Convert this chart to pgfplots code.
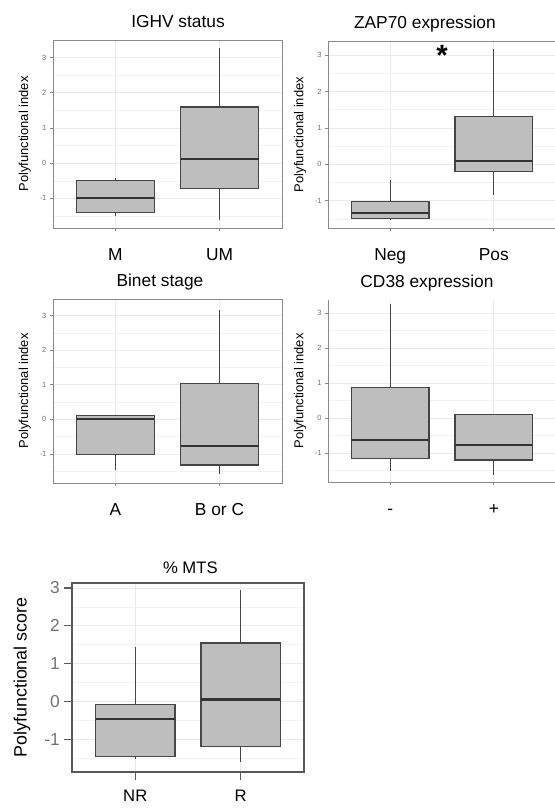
\documentclass[border=0pt]{standalone}
\usepackage{pgfplots}
\pgfplotsset{compat=1.18}
\usepgfplotslibrary{statistics}
\usepackage{fontspec}
\setmainfont{Liberation Sans}

\definecolor{boxfill}{HTML}{BEBEBE}
\definecolor{boxline}{HTML}{454545}
\definecolor{medline}{HTML}{333333}
\definecolor{gridmaj}{HTML}{EBEBEB}
\definecolor{gridmin}{HTML}{F3F3F3}
\definecolor{framecol}{HTML}{8A8A8A}
\definecolor{ticklab}{HTML}{6E6E6E}

\pgfplotsset{
  panel/.style={
    scale only axis,
    anchor=south west,
    xmin=0.4, xmax=2.6,
    xtick={1,2},
    ytick={-1,0,1,2,3},
    yticklabels={-1,0,1,2,3},
    minor ytick={-1.5,-0.5,0.5,1.5,2.5},
    xmajorgrids, ymajorgrids, yminorgrids,
    major grid style={gridmaj, line width=0.6pt},
    minor grid style={gridmin, line width=0.45pt},
    tick align=outside,
    xtick pos=bottom, ytick pos=left,
    major tick length=2.25pt, minor tick length=0pt,
    tick style={framecol, line width=0.5pt},
    axis line style={framecol, line width=0.6pt},
    xticklabel style={font=\fontsize{13}{15}\selectfont, anchor=base, inner sep=0pt, yshift=-22.5pt},
    yticklabel style={font=\fontsize{5.6}{6}\selectfont, color=ticklab, inner sep=2.5pt},
    title style={font=\fontsize{13}{15}\selectfont, anchor=base, yshift=3pt},
    ylabel={Polyfunctional index},
    ylabel style={font=\fontsize{9.7}{11}\selectfont, at={(axis description cs:-0.123,0.5)}, anchor=center},
    boxplot/draw direction=y,
    boxplot/box extend=0.75,
    boxplot/whisker extend=0,
    boxplot/every median/.style={draw=medline, line width=1.7pt},
  },
  bx/.style={draw=boxline, fill=boxfill, line width=0.95pt},
}

\begin{document}
\begin{tikzpicture}
\useasboundingbox (0,0) rectangle (416.25pt,607.5pt);

% Panel 1: IGHV status
\begin{axis}[panel,
  at={(39.75pt,436.5pt)}, width=171.75pt, height=141pt,
  ymin=-1.84, ymax=3.5,
  xticklabels={M,UM},
  title={IGHV status},
  title style={at={(axis description cs:0.546,1)}},
]
\addplot[bx, boxplot prepared={draw position=1, lower whisker=-1.50, lower quartile=-1.39, median=-0.99, upper quartile=-0.50, upper whisker=-0.43}] coordinates {};
\addplot[bx, boxplot prepared={draw position=2, lower whisker=-1.60, lower quartile=-0.72, median=0.11, upper quartile=1.60, upper whisker=3.26}] coordinates {};
\end{axis}

% Panel 2: ZAP70 expression
\begin{axis}[panel,
  at={(246pt,436.5pt)}, width=171pt, height=140.25pt,
  ymin=-1.75, ymax=3.39,
  xticklabels={Neg,Pos},
  title={ZAP70 expression},
  title style={at={(axis description cs:0.425,1)}},
]
\addplot[bx, boxplot prepared={draw position=1, lower whisker=-1.52, lower quartile=-1.48, median=-1.34, upper quartile=-1.02, upper whisker=-0.42}] coordinates {};
\addplot[bx, boxplot prepared={draw position=2, lower whisker=-0.83, lower quartile=-0.19, median=0.10, upper quartile=1.31, upper whisker=3.16}] coordinates {};
\node[anchor=north, inner sep=0pt, font=\fontsize{22}{24}\selectfont\bfseries] at (axis cs:1.5,3.29) {*};
\end{axis}

% Panel 3: Binet stage
\begin{axis}[panel,
  at={(39.75pt,245.25pt)}, width=171.75pt, height=138pt,
  ymin=-1.84, ymax=3.48,
  xticklabels={A,B or C},
  title={Binet stage},
  title style={at={(axis description cs:0.467,1)}},
]
\addplot[bx, boxplot prepared={draw position=1, lower whisker=-1.45, lower quartile=-1.01, median=0.02, upper quartile=0.12, upper whisker=0.12}] coordinates {};
\addplot[bx, boxplot prepared={draw position=2, lower whisker=-1.59, lower quartile=-1.32, median=-0.76, upper quartile=1.04, upper whisker=3.15}] coordinates {};
\end{axis}

% Panel 4: CD38 expression
\begin{axis}[panel,
  at={(246pt,246pt)}, width=171pt, height=136.5pt,
  ymin=-1.82, ymax=3.38,
  axis x line*=bottom, axis y line*=left,
  axis line style={-},
  xticklabels={-,+},
  title={CD38 expression},
  title style={at={(axis description cs:0.434,1)}},
]
\addplot[bx, boxplot prepared={draw position=1, lower whisker=-1.50, lower quartile=-1.14, median=-0.62, upper quartile=0.89, upper whisker=3.27}] coordinates {};
\addplot[bx, boxplot prepared={draw position=2, lower whisker=-1.62, lower quartile=-1.19, median=-0.77, upper quartile=0.10, upper whisker=0.10}] coordinates {};
\end{axis}

% Panel 5: % MTS
\begin{axis}[panel,
  at={(54pt,28.5pt)}, width=174pt, height=141.75pt,
  ymin=-1.87, ymax=3.13,
  xticklabels={NR,R},
  major tick length=6pt,
  tick style={draw=black!65, line width=0.9pt},
  axis line style={draw=black!65, line width=1.1pt},
  xticklabel style={font=\fontsize{12.5}{15}\selectfont, yshift=6.0pt},
  yticklabel style={font=\fontsize{13}{15}\selectfont, color=black!55, inner sep=3pt},
  title={\% MTS},
  title style={at={(axis description cs:0.51,1)}, font=\fontsize{12.5}{15}\selectfont, yshift=-1.5pt},
  ylabel={Polyfunctional score},
  ylabel style={font=\fontsize{13.4}{15}\selectfont, at={(axis description cs:-0.216,0.5)}},
  boxplot/every median/.style={draw=medline, line width=2pt},
]
\addplot[bx, line width=1.05pt, draw=black!72, boxplot prepared={draw position=1, lower whisker=-1.53, lower quartile=-1.46, median=-0.47, upper quartile=-0.09, upper whisker=1.43}] coordinates {};
\addplot[bx, line width=1.05pt, draw=black!72, boxplot prepared={draw position=2, lower whisker=-1.60, lower quartile=-1.19, median=0.05, upper quartile=1.54, upper whisker=2.95}] coordinates {};
\end{axis}
\end{tikzpicture}
\end{document}
